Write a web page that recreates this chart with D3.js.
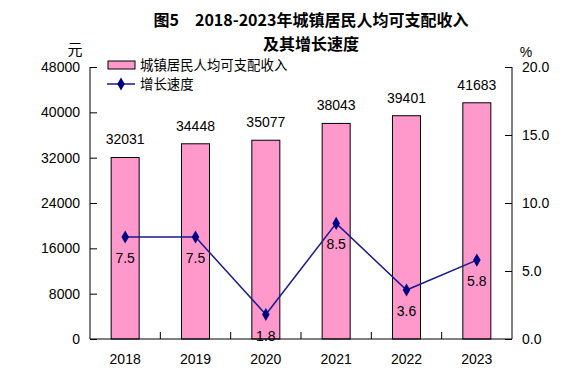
<!DOCTYPE html>
<html>
<head>
<meta charset="utf-8">
<script src="https://cdn.jsdelivr.net/npm/d3@7"></script>
<style>
  body { margin: 0; background: #fff; }
  svg text { font-family: "Liberation Sans", Arial, sans-serif; fill: #000; }
  .cn { font-family: "Noto Sans CJK SC", sans-serif; }
</style>
</head>
<body>
<svg id="chart" width="582" height="376"></svg>
<script>
const years = ['2018', '2019', '2020', '2021', '2022', '2023'];
const income = [32031, 34448, 35077, 38043, 39401, 41683];
const growth = [7.5, 7.5, 1.8, 8.5, 3.6, 5.8];
const leftTicks = [0, 8000, 16000, 24000, 32000, 40000, 48000];
const rightTicks = [0, 5, 10, 15, 20];

const margin = {top: 67, right: 70, bottom: 37, left: 90};
const width = 582 - margin.left - margin.right;
const height = 376 - margin.top - margin.bottom;

const svg = d3.select('#chart');
const g = svg.append('g').attr('transform', 'translate(' + margin.left + ',' + margin.top + ')');

const x = d3.scaleBand().domain(years).range([0, width]);
const yL = d3.scaleLinear().domain([0, 48000]).range([height, 0]);
const yR = d3.scaleLinear().domain([0, 20]).range([height, 0]);

// title
svg.append('text').attr('class', 'cn')
  .attr('x', 311).attr('y', 26).attr('text-anchor', 'middle')
  .style('font-size', '16px').style('font-weight', 'bold')
  .text('图5　2018-2023年城镇居民人均可支配收入');
svg.append('text').attr('class', 'cn')
  .attr('x', 311).attr('y', 50).attr('text-anchor', 'middle')
  .style('font-size', '16px').style('font-weight', 'bold')
  .text('及其增长速度');

// bars
const bw = 28;
g.selectAll('rect.bar').data(income).enter().append('rect')
  .attr('class', 'bar')
  .attr('x', (d, i) => x(years[i]) + x.bandwidth() / 2 - bw / 2)
  .attr('y', d => yL(d))
  .attr('width', bw)
  .attr('height', d => height - yL(d))
  .attr('fill', '#FF99CC')
  .attr('stroke', '#000').attr('stroke-width', 1);

g.selectAll('text.blab').data(income).enter().append('text')
  .attr('x', (d, i) => x(years[i]) + x.bandwidth() / 2)
  .attr('y', d => yL(d) - 13)
  .attr('text-anchor', 'middle')
  .style('font-size', '14px')
  .text(d => d);

// left axis
const axL = g.append('g')
  .call(d3.axisLeft(yL).tickValues(leftTicks).tickSize(-7).tickPadding(10).tickFormat(d3.format('d')));
axL.selectAll('text').style('font-size', '14px');
axL.select('.domain').attr('d', 'M0,0V' + height);

// right axis
const axR = g.append('g').attr('transform', 'translate(' + width + ',0)')
  .call(d3.axisRight(yR).tickValues(rightTicks).tickSize(-7).tickPadding(10).tickFormat(d3.format('.1f')));
axR.selectAll('text').style('font-size', '14px');
axR.select('.domain').attr('d', 'M0,0V' + height);

// bottom axis
const axB = g.append('g').attr('transform', 'translate(0,' + height + ')');
axB.append('line').attr('x1', 0).attr('x2', width).attr('stroke', '#000');
axB.selectAll('line.tk').data(years.slice(1)).enter().append('line')
  .attr('x1', d => x(d)).attr('x2', d => x(d))
  .attr('y1', 0).attr('y2', -7).attr('stroke', '#000');
axB.selectAll('text').data(years).enter().append('text')
  .attr('x', d => x(d) + x.bandwidth() / 2)
  .attr('y', 25)
  .attr('text-anchor', 'middle')
  .style('font-size', '14px')
  .text(d => d);

// unit labels
svg.append('text').attr('class', 'cn').attr('x', 75).attr('y', 55)
  .attr('text-anchor', 'middle').style('font-size', '15px').text('元');
svg.append('text').attr('x', 526).attr('y', 57)
  .attr('text-anchor', 'middle').style('font-size', '14px').text('%');

// growth line
const line = d3.line()
  .x((d, i) => x(years[i]) + x.bandwidth() / 2)
  .y(d => yR(d));
g.append('path').datum(growth)
  .attr('fill', 'none').attr('stroke', '#1A1A8C').attr('stroke-width', 1.5)
  .attr('d', line);
g.selectAll('path.pt').data(growth).enter().append('path')
  .attr('class', 'pt')
  .attr('transform', (d, i) => 'translate(' + (x(years[i]) + x.bandwidth() / 2) + ',' + yR(d) + ')')
  .attr('d', d3.symbol().type(d3.symbolDiamond).size(50))
  .attr('fill', '#000080');
g.selectAll('text.llab').data(growth).enter().append('text')
  .attr('x', (d, i) => x(years[i]) + x.bandwidth() / 2)
  .attr('y', d => yR(d) + 26)
  .attr('text-anchor', 'middle')
  .style('font-size', '14px')
  .text(d => d.toFixed(1));

// legend
const lg = svg.append('g');
lg.append('rect').attr('x', 108).attr('y', 61).attr('width', 27).attr('height', 8)
  .attr('fill', '#FF99CC').attr('stroke', '#000');
lg.append('text').attr('class', 'cn').attr('x', 140).attr('y', 70)
  .style('font-size', '13.4px').text('城镇居民人均可支配收入');
lg.append('line').attr('x1', 107).attr('x2', 135).attr('y1', 84).attr('y2', 84)
  .attr('stroke', '#1A1A8C').attr('stroke-width', 1.5);
lg.append('path').attr('transform', 'translate(121,84)')
  .attr('d', d3.symbol().type(d3.symbolDiamond).size(50)).attr('fill', '#000080');
lg.append('text').attr('class', 'cn').attr('x', 140).attr('y', 89)
  .style('font-size', '13.4px').text('增长速度');
</script>
</body>
</html>
